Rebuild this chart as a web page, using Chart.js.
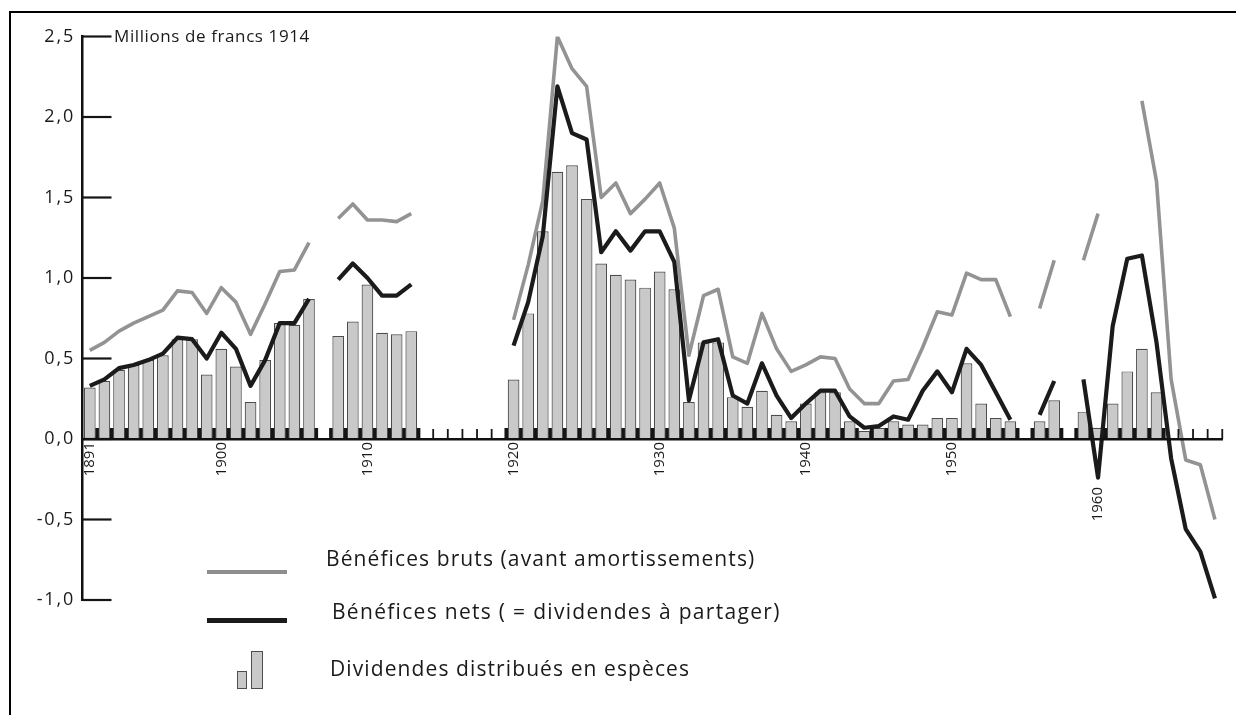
<!DOCTYPE html>
<html><head><meta charset="utf-8">
<script src="https://cdn.jsdelivr.net/npm/chart.js@4/dist/chart.umd.min.js"></script>
<style>
html,body{margin:0;padding:0;background:#fff;}
#wrap{position:relative;width:1236px;height:715px;overflow:hidden;background:#fff;}
#frame{position:absolute;left:9px;top:11px;width:1300px;height:800px;border:2px solid #000;box-sizing:border-box;pointer-events:none;}
canvas{position:absolute;left:0;top:0;}
.t{position:absolute;font-family:"Open Sans",sans-serif;color:#1a1a1a;white-space:nowrap;line-height:1;}
.lg{font-size:21px;letter-spacing:1.1px;}
.sw{position:absolute;}
</style></head><body>
<div id="wrap">
<canvas id="c" width="1236" height="715"></canvas>
<div id="frame"></div>
<div class="t" style="left:114px;top:27px;font-size:17px;letter-spacing:0.6px;">Millions de francs 1914</div>
<div class="sw" style="left:207px;top:570px;width:80px;height:4px;background:#8e8e8e;"></div>
<div class="t lg" style="left:326px;top:548px;">Bénéfices bruts (avant amortissements)</div>
<div class="sw" style="left:207px;top:618px;width:80px;height:5px;background:#1b1b1b;"></div>
<div class="t lg" style="left:332px;top:601px;letter-spacing:1.3px;">Bénéfices nets ( = dividendes à partager)</div>
<div class="sw" style="left:237px;top:671px;width:10px;height:18px;background:#c9c9c9;border:1px solid #4d4d4d;box-sizing:border-box;"></div>
<div class="sw" style="left:251px;top:651px;width:12px;height:38px;background:#c9c9c9;border:1px solid #4d4d4d;box-sizing:border-box;"></div>
<div class="t lg" style="left:330px;top:658px;">Dividendes distribués en espèces</div>
</div>
<script>
const years = [
 '1891','1892','1893','1894','1895','1896','1897','1898','1899','1900',
 '1901','1902','1903','1904','1905','1906','1907','1908','1909','1910',
 '1911','1912','1913','1914','1915','1916','1917','1918','1919','1920',
 '1921','1922','1923','1924','1925','1926','1927','1928','1929','1930',
 '1931','1932','1933','1934','1935','1936','1937','1938','1939','1940',
 '1941','1942','1943','1944','1945','1946','1947','1948','1949','1950',
 '1951','1952','1953','1954','1955','1956','1957','1958','1959','1960',
 '1961','1962','1963','1964','1965','1966','1967','1968'];

const xTickLabels = ['1891','1900','1910','1920','1930','1940','1950','1960'];
const yTickValues = [-1, -0.5, 0, 0.5, 1, 1.5, 2, 2.5];
const yTickLabels = ['-1,0','-0,5','0,0','0,5','1,0','1,5','2,0','2,5'];

const grossLabel = 'Bénéfices bruts (avant amortissements)';
const netLabel = 'Bénéfices nets ( = dividendes à partager)';
const divLabel = 'Dividendes distribués en espèces';

// Bénéfices bruts
const gross = [
 0.55,0.60,0.67,0.72,0.76,0.80,0.92,0.91,0.78,0.94,
 0.85,0.65,0.84,1.04,1.05,1.22,null,1.37,1.46,1.36,
 1.36,1.35,1.40,null,null,null,null,null,null,0.74,
 1.08,1.48,2.50,2.30,2.19,1.50,1.59,1.40,1.49,1.59,
 1.31,0.52,0.89,0.93,0.51,0.47,0.78,0.56,0.42,0.46,
 0.51,0.50,0.31,0.22,0.22,0.36,0.37,0.57,0.79,0.77,
 1.03,0.99,0.99,0.76,null,0.81,1.11,null,1.11,1.40,
 null,null,2.10,1.60,0.37,-0.13,-0.16,-0.50];

// Bénéfices nets
const net = [
 0.33,0.37,0.44,0.46,0.49,0.53,0.63,0.62,0.50,0.66,
 0.56,0.33,0.49,0.72,0.72,0.87,null,0.99,1.09,1.00,
 0.89,0.89,0.96,null,null,null,null,null,null,0.58,
 0.85,1.26,2.19,1.90,1.86,1.16,1.29,1.17,1.29,1.29,
 1.10,0.24,0.60,0.62,0.27,0.22,0.47,0.27,0.13,0.22,
 0.30,0.30,0.14,0.07,0.08,0.14,0.12,0.30,0.42,0.29,
 0.56,0.46,0.29,0.12,null,0.15,0.36,null,0.37,-0.24,
 0.70,1.12,1.14,0.60,-0.12,-0.56,-0.70,-0.99];

// Dividendes distribués en espèces
const dividends = [
 0.32,0.36,0.43,0.46,0.49,0.52,0.62,0.62,0.40,0.56,
 0.45,0.23,0.49,0.72,0.71,0.87,null,0.64,0.73,0.96,
 0.66,0.65,0.67,null,null,null,null,null,null,0.37,
 0.78,1.29,1.66,1.70,1.49,1.09,1.02,0.99,0.94,1.04,
 0.93,0.23,0.60,0.60,0.26,0.20,0.30,0.15,0.11,0.22,
 0.29,0.29,0.11,0.05,0.07,0.11,0.09,0.09,0.13,0.13,
 0.47,0.22,0.13,0.11,null,0.11,0.24,null,0.17,0.07,
 0.22,0.42,0.56,0.29,null,null,null,null];

const axisTicks = {
  id: 'axisTicks',
  beforeDraw(chart) {
    chart.ctx.letterSpacing = '1.8px';
  },
  beforeDatasetsDraw(chart) {
    chart.ctx.letterSpacing = '0px';
  },
  afterDatasetsDraw(chart) {
    const {ctx, scales: {x, y}} = chart;
    ctx.letterSpacing = '0px';
    const y0 = y.getPixelForValue(0);
    const n = chart.data.labels.length;
    const half = (x.getPixelForValue(1) - x.getPixelForValue(0)) / 2;
    ctx.save();
    ctx.strokeStyle = '#151515';
    for (let i = 1; i <= n; i++) {
      const px = i < n ? x.getPixelForValue(i) - half : x.getPixelForValue(n - 1) + half;
      const thick = (dividends[i - 1] != null) || (i < n && dividends[i] != null);
      ctx.lineWidth = thick ? 3.6 : 1.8;
      ctx.beginPath();
      ctx.moveTo(px, y0);
      ctx.lineTo(px, y0 - (thick ? 11 : 10));
      ctx.stroke();
    }
    ctx.lineWidth = 2.2;
    y.ticks.forEach(t => {
      const py = y.getPixelForValue(t.value);
      ctx.beginPath();
      ctx.moveTo(chart.chartArea.left, py);
      ctx.lineTo(chart.chartArea.left + 29, py);
      ctx.stroke();
    });
    ctx.restore();
  }
};

new Chart(document.getElementById('c').getContext('2d'), {
  data: {
    labels: years,
    datasets: [
      {type: 'line', label: netLabel, data: net, borderColor: '#1b1b1b', borderWidth: 4.2,
       pointRadius: 0, spanGaps: false, tension: 0, borderJoinStyle: 'round', order: 1},
      {type: 'line', label: grossLabel, data: gross, borderColor: '#939393', borderWidth: 3.6,
       pointRadius: 0, spanGaps: false, tension: 0, borderJoinStyle: 'round', order: 2},
      {type: 'bar', label: divLabel, data: dividends, backgroundColor: '#c9c9c9',
       borderColor: '#4d4d4d', borderWidth: 1.2, barPercentage: 0.8, categoryPercentage: 1, order: 3}
    ]
  },
  options: {
    responsive: false, animation: false, devicePixelRatio: 1,
    layout: {padding: {top: 36.5, bottom: 115, left: 0, right: 7}},
    plugins: {legend: {display: false}, tooltip: {enabled: false}},
    scales: {
      x: {
        type: 'category', offset: true, position: {y: 0},
        grid: {display: false, drawTicks: false},
        border: {display: true, color: '#111', width: 2.5, z: 1},
        ticks: {
          z: 1,
          autoSkip: false, minRotation: 90, maxRotation: 90, padding: 3,
          color: '#1a1a1a', font: {family: 'Open Sans', size: 15},
          callback: function(v, i) {
            const lab = years[i];
            if (!xTickLabels.includes(lab)) return '';
            return lab === '1960' ? lab + '\u2003\u2003\u2003' : lab;
          }
        },
        afterFit: s => { s.height = 0; }
      },
      y: {
        min: -1, max: 2.5,
        grid: {display: false, drawTicks: false},
        border: {display: true, color: '#111', width: 2.5},
        afterBuildTicks: s => { s.ticks = yTickValues.map(v => ({value: v})); },
        ticks: {
          padding: 7.5, color: '#1a1a1a', font: {family: 'Open Sans', size: 18},
          callback: v => yTickLabels[yTickValues.indexOf(v)]
        },
        afterFit: s => { s.width = 82.5; }
      }
    }
  },
  plugins: [axisTicks]
});
</script>
</body></html>
